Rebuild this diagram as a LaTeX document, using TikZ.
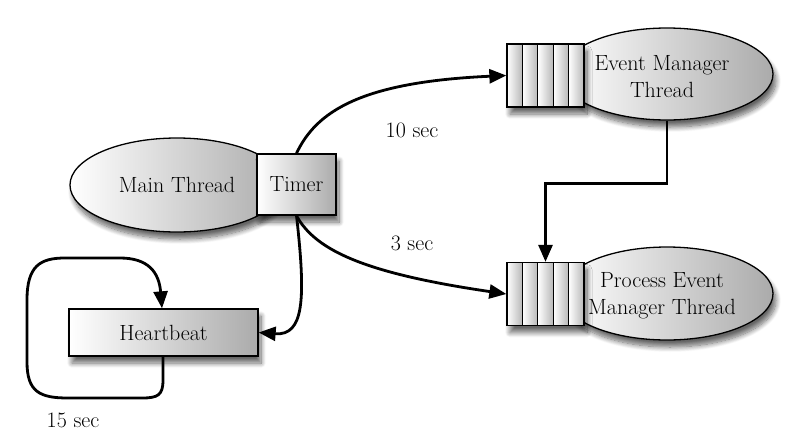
\documentclass[tikz,border=0pt]{standalone}
\usetikzlibrary{shapes.geometric,shadows.blur,arrows.meta,calc}
\begin{document}
\begin{tikzpicture}[x=1pt,y=-1pt,
  every node/.style={font=\fontsize{22}{27}\selectfont},
  grad/.style={left color=white, right color=black!33},
  shad/.style={blur shadow={shadow xshift=3pt,shadow yshift=-7pt,shadow blur steps=10,shadow blur radius=5pt,shadow opacity=60}},
  ell/.style={ellipse, draw=black, line width=1.3pt, grad, shad, inner sep=0pt},
  box/.style={rectangle, draw=black, line width=1.3pt, grad, shad, inner sep=0pt},
  queue/.style={rectangle, draw=black, line width=1.3pt, fill=white, shad, minimum width=77pt, minimum height=63pt, inner sep=0pt},
  cell/.style={rectangle, draw=black, line width=1.1pt, left color=white, right color=black!28, minimum width=15.4pt, minimum height=63pt, inner sep=0pt},
  conn/.style={line width=2.8pt, -{Triangle[length=17pt,width=14pt]}},
  txt/.style={align=center, inner sep=0pt}
]
\useasboundingbox (0,0) rectangle (802,442);

% Main thread + timer
\node[ell, minimum width=214pt, minimum height=94pt] (main) at (177,185) {};
\node[txt] (maintxt) at (177,185) {Main Thread};
\node[box, minimum width=79pt, minimum height=61pt] (timer) at (296.5,184.5) {Timer};

% Event manager thread
\node[ell, minimum width=212pt, minimum height=92pt] (em) at (667,74) {};
\node[queue] (emq) at (545.5,75.5) {};
\foreach \i in {0,...,4} \node[cell] (emc\i) at (514.7+15.4*\i,75.5) {};
\node[txt] (emtxt) at (662,76.5) {Event Manager\\Thread};

% Process event manager thread
\node[ell, minimum width=212pt, minimum height=93pt] (pm) at (667,293.5) {};
\node[queue] (pmq) at (545.5,294) {};
\foreach \i in {0,...,4} \node[cell] (pmc\i) at (514.7+15.4*\i,294) {};
\node[txt] (pmtxt) at (662,295.5) {Process Event\\Manager Thread};

% Heartbeat
\node[box, minimum width=189pt, minimum height=47pt] (hb) at (163.5,332.5) {Heartbeat};

% connectors
\draw[conn] (timer.north) .. controls (316,112) and (360,82) .. (emq.west);
\draw[conn] (timer.south) .. controls (316,252) and (370,274) .. (pmq.west);
\draw[conn] (timer.south) .. controls (306,300) and (304,336) .. (hb.east);
\draw[conn] (em.south) -- ($(em.south)+(0,63)$) -| (pmq.north);
\coordinate (hbo) at ($(hb.south)+(-0.5,0)$);
\coordinate (hbi) at ($(hb.north)+(-1.5,0)$);
\draw[conn] (hbo) -- (163,380) .. controls (163,395) and (158,398) .. (142,398)
  -- (68,398) .. controls (40,398) and (27,392) .. (27,362)
  -- (27,300) .. controls (27,266) and (40,258) .. (65,258)
  -- (120,258) .. controls (148,258) and (159,272) .. (hbi);

% labels
\node[txt] (l10) at (412,130) {10 sec};
\node[txt] (l3) at (412,243) {3 sec};
\node[txt] (l15) at (73,420) {15 sec};
\end{tikzpicture}
\end{document}
